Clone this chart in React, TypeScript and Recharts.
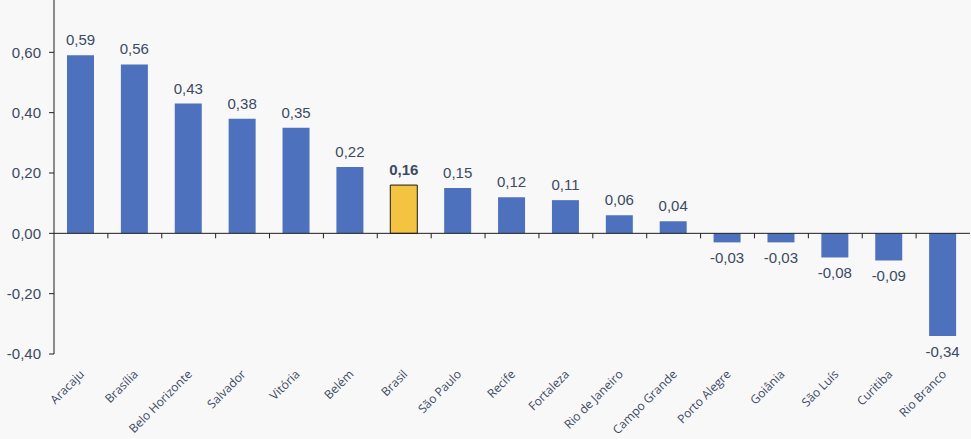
import React from "react";
import { BarChart, Bar, XAxis, YAxis, Cell, LabelList, ReferenceLine } from "recharts";

const cities = [
  "Aracaju", "Brasília", "Belo Horizonte", "Salvador", "Vitória", "Belém", "Brasil",
  "São Paulo", "Recife", "Fortaleza", "Rio de Janeiro", "Campo Grande", "Porto Alegre",
  "Goiânia", "São Luís", "Curitiba", "Rio Branco",
];
const values = [0.59, 0.56, 0.43, 0.38, 0.35, 0.22, 0.16, 0.15, 0.12, 0.11, 0.06, 0.04, -0.03, -0.03, -0.08, -0.09, -0.34];
const yTicks = [-0.4, -0.2, 0, 0.2, 0.4, 0.6];
const highlight = "Brasil";

const data = cities.map((city, i) => ({ city, value: values[i] }));

const FONT = "'Liberation Sans', Arial, sans-serif";
const CAT_FONT = "'Open Sans', sans-serif";
const TEXT = "#3b4a63";
const BLUE = "#4e71bd";
const GOLD = "#f5c342";

const fmt = (v: number) => v.toFixed(2).replace(".", ",");

const ValueLabel = (props: any) => {
  const { x, y, width, height, value, index } = props;
  const top = Math.min(y, y + height);
  const bottom = Math.max(y, y + height);
  const cx = x + width / 2;
  const bold = cities[index] === highlight;
  return (
    <text
      x={cx}
      y={value >= 0 ? top - 10 : bottom + 21}
      textAnchor="middle"
      fill={TEXT}
      fontSize={15}
      fontWeight={bold ? "bold" : "normal"}
      fontFamily={FONT}
    >
      {fmt(value)}
    </text>
  );
};

const CityTick = (props: any) => {
  const { x, y, payload } = props;
  const ax = x + 4;
  const ay = y + 13;
  return (
    <text
      x={ax}
      y={ay}
      textAnchor="end"
      fill={TEXT}
      fontSize={12}
      fontFamily={CAT_FONT}
      transform={`rotate(-45, ${ax}, ${ay})`}
    >
      {payload.value}
    </text>
  );
};

// zero line with the category separators hanging below it
const ZeroLine = (props: any) => {
  const { x1, y1, x2 } = props;
  const band = (x2 - x1) / cities.length;
  return (
    <g>
      <line x1={x1} y1={y1} x2={x2} y2={y1} stroke="#1f1f1f" strokeWidth={1} />
      {cities.slice(1).map((c, i) => (
        <line key={c} x1={x1 + band * (i + 1)} y1={y1} x2={x1 + band * (i + 1)} y2={y1 + 5} stroke="#1f1f1f" strokeWidth={1} />
      ))}
    </g>
  );
};

export default function App() {
  return (
    <div style={{ position: "absolute", left: 0, top: -8, width: 971, height: 447, background: "#f8f8f8" }}>
      <BarChart width={971} height={447} data={data} margin={{ top: 0, right: 1, left: 0, bottom: 0 }}>
        <YAxis
          domain={[-0.4, 0.8]}
          ticks={yTicks}
          tickFormatter={fmt}
          width={54}
          tickSize={5}
          tickMargin={8}
          axisLine={{ stroke: "#1f1f1f" }}
          tickLine={{ stroke: "#1f1f1f" }}
          tick={{ fill: TEXT, fontSize: 15, fontFamily: FONT }}
        />
        <XAxis dataKey="city" height={85} interval={0} axisLine={false} tickLine={false} tick={<CityTick />} />
        <ReferenceLine y={0} shape={<ZeroLine />} />
        <Bar dataKey="value" barSize={27} isAnimationActive={false}>
          {data.map((d) => (
            <Cell
              key={d.city}
              fill={d.city === highlight ? GOLD : BLUE}
              stroke={d.city === highlight ? "#1a1a1a" : "none"}
              strokeWidth={1}
            />
          ))}
          <LabelList dataKey="value" content={<ValueLabel />} />
        </Bar>
      </BarChart>
    </div>
  );
}
